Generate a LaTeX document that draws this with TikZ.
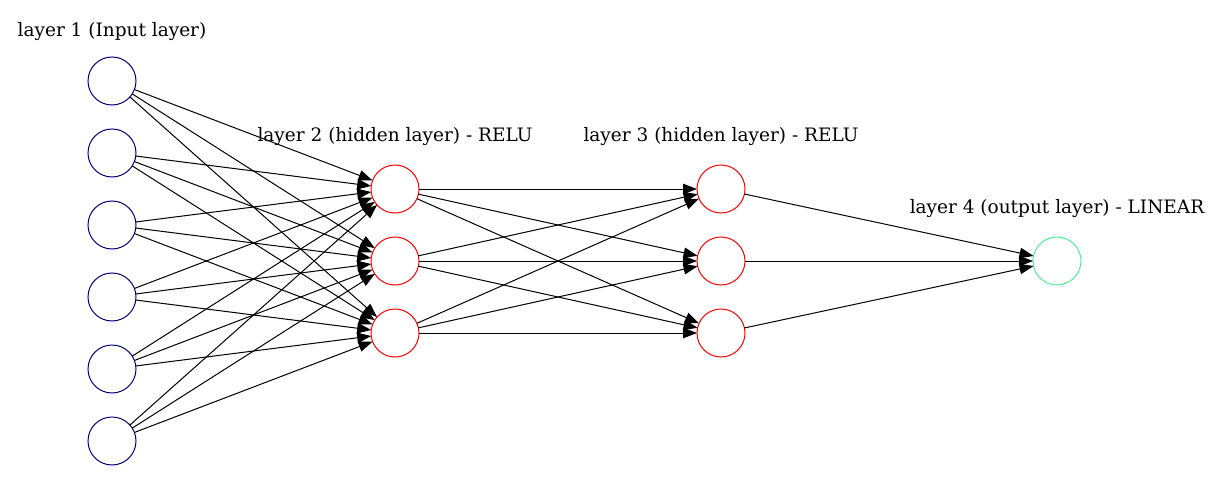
\documentclass[tikz,border=0pt]{standalone}
\usepackage{fontspec}
\setmainfont{DejaVu Serif}
\usepackage{tikz}
\usetikzlibrary{arrows.meta, positioning}
\definecolor{inblue}{HTML}{000080}
\definecolor{hidred}{HTML}{FF0000}
\definecolor{outgreen}{HTML}{4EEE94}

\begin{document}
\begin{tikzpicture}[
  x=1pt,y=1pt,
  neuron/.style={circle,draw,line width=1pt,minimum size=48pt,inner sep=0pt,outer sep=0pt},
  inp/.style={neuron,draw=inblue},
  hid/.style={neuron,draw=hidred},
  outp/.style={neuron,draw=outgreen},
  lbl/.style={inner sep=0pt,font=\fontsize{18.5}{22}\selectfont},
  arr/.style={-{Triangle[length=14pt,width=10.5pt]},line width=1pt,color=black}
]
\useasboundingbox (0,0) rectangle (1223,-492);
% input layer
\node[inp] (in1) at (112,-81) {};
\node[inp, below=24pt of in1] (in2) {};
\node[inp, below=24pt of in2] (in3) {};
\node[inp, below=24pt of in3] (in4) {};
\node[inp, below=24pt of in4] (in5) {};
\node[inp, below=24pt of in5] (in6) {};
% hidden layers
\node[hid] (ha1) at (395,-189) {};
\node[hid, below=24pt of ha1] (ha2) {};
\node[hid, below=24pt of ha2] (ha3) {};
\node[hid] (hb1) at (721,-189) {};
\node[hid, below=24pt of hb1] (hb2) {};
\node[hid, below=24pt of hb2] (hb3) {};
% output layer
\node[outp] (out) at (1057,-261) {};
% layer titles
\node[lbl, above=16pt of in1] {layer 1 (Input layer)};
\node[lbl, above=19pt of ha1] {layer 2 (hidden layer) - RELU};
\node[lbl, above=19pt of hb1] {layer 3 (hidden layer) - RELU};
\node[lbl, above=19pt of out] {layer 4 (output layer) - LINEAR};
% edges
\draw[arr] (in1) -- (ha1); \draw[arr] (in1) -- (ha2); \draw[arr] (in1) -- (ha3);
\draw[arr] (in2) -- (ha1); \draw[arr] (in2) -- (ha2); \draw[arr] (in2) -- (ha3);
\draw[arr] (in3) -- (ha1); \draw[arr] (in3) -- (ha2); \draw[arr] (in3) -- (ha3);
\draw[arr] (in4) -- (ha1); \draw[arr] (in4) -- (ha2); \draw[arr] (in4) -- (ha3);
\draw[arr] (in5) -- (ha1); \draw[arr] (in5) -- (ha2); \draw[arr] (in5) -- (ha3);
\draw[arr] (in6) -- (ha1); \draw[arr] (in6) -- (ha2); \draw[arr] (in6) -- (ha3);
\draw[arr] (ha1) -- (hb1); \draw[arr] (ha1) -- (hb2); \draw[arr] (ha1) -- (hb3);
\draw[arr] (ha2) -- (hb1); \draw[arr] (ha2) -- (hb2); \draw[arr] (ha2) -- (hb3);
\draw[arr] (ha3) -- (hb1); \draw[arr] (ha3) -- (hb2); \draw[arr] (ha3) -- (hb3);
\draw[arr] (hb1) -- (out); \draw[arr] (hb2) -- (out); \draw[arr] (hb3) -- (out);
\end{tikzpicture}
\end{document}
